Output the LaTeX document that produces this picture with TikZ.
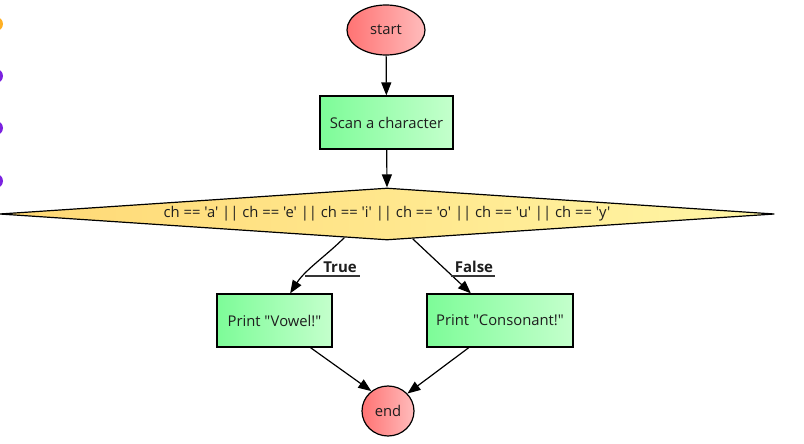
\documentclass[tikz,border=0pt]{standalone}
\usepackage{fontspec}
\setmainfont{Open Sans}[Ligatures=TeXOff]
\usetikzlibrary{shapes.geometric,arrows.meta}
\definecolor{redL}{HTML}{FF7373}
\definecolor{redR}{HTML}{FFBCBC}
\definecolor{greenL}{HTML}{7DFC98}
\definecolor{greenR}{HTML}{C4FFCC}
\definecolor{yellowL}{HTML}{FFD874}
\definecolor{yellowR}{HTML}{FFF6A6}
\definecolor{inkc}{HTML}{1E1E1E}
\definecolor{dotor}{HTML}{FFB024}
\definecolor{dotpu}{HTML}{7B22E0}
\begin{document}
\begin{tikzpicture}[x=1pt,y=-1pt,
    font=\fontsize{14.8}{18}\selectfont,
    terminal/.style={ellipse,draw=black,line width=1.2pt,left color=redL,right color=redR,
        minimum height=50pt,inner sep=0pt,text=inkc},
    process/.style={rectangle,draw=black,line width=1.2pt,left color=greenL,right color=greenR,
        minimum height=53pt,inner sep=0pt,text=inkc},
    decision/.style={diamond,draw=black,line width=1.2pt,left color=yellowL,right color=yellowR,
        aspect=15,inner sep=2pt,minimum width=775pt,minimum height=52pt,text=inkc},
    flow/.style={line width=1.2pt,-{Triangle[length=13pt,width=10pt]}},
    tag/.style={font=\fontsize{15}{18}\selectfont\bfseries,text=inkc,inner sep=1pt},
    tagline/.style={line width=1.5pt,draw=inkc!90}]
    \useasboundingbox (0,0) rectangle (804,444);
    % bits of the page edge
    \fill[dotor] (-4,24) circle[radius=7];
    \fill[dotpu] (-4,76) circle[radius=7];
    \fill[dotpu] (-4,128) circle[radius=7];
    \fill[dotpu] (-4,181) circle[radius=7];
    % nodes
    \node[terminal,minimum width=78pt] (start) at (386,30) {start};
    \node[process,minimum width=133pt] (scan) at (386.5,122.5) {Scan a character};
    \node[decision] (test) at (387,214) {ch == 'a' || ch == 'e' || ch == 'i' || ch == 'o' || ch == 'u' || ch == 'y'};
    \node[process,minimum width=115pt] (vowel) at (274.5,320.5) {Print "Vowel!"};
    \node[process,minimum width=146pt] (cons) at (500,320.5) {Print "Consonant!"};
    \node[terminal,minimum width=52pt] (end) at (388,411) {end};
    % connectors
    \draw[flow] (start) -- (scan);
    \draw[flow] (scan) -- (test.north);
    \draw[flow] (test.209) .. controls (327,255) and (305,270) .. (vowel.60);
    \draw[flow] (test.316) -- (cons.137);
    \draw[flow] (vowel.323) -- (end.130);
    \draw[flow] (cons.221) -- (end.42);
    % labels
    \coordinate (truel) at (305,276);
    \coordinate (truer) at (360,276);
    \coordinate (falsel) at (451,276);
    \coordinate (falser) at (495,276);
    \draw[tagline] (truel) -- (truer);
    \draw[tagline] (falsel) -- (falser);
    \node[tag,anchor=south] (truet) at (340,274) {True};
    \node[tag,anchor=south] (falset) at (474,274) {False};
\end{tikzpicture}
\end{document}
